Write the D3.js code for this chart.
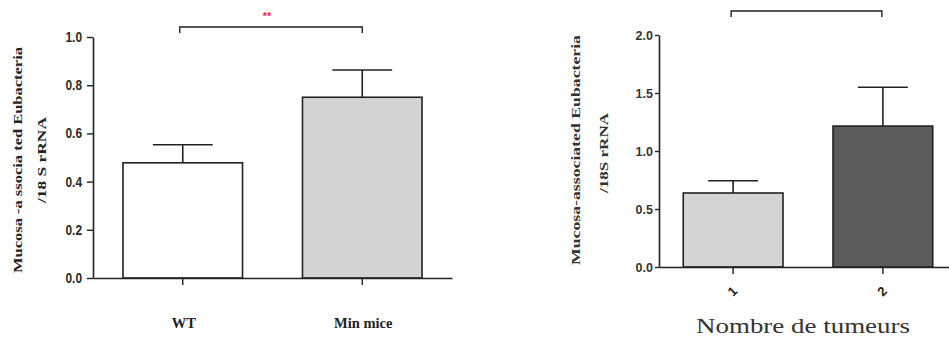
<!DOCTYPE html>
<html><head><meta charset="utf-8">
<script src="https://cdn.jsdelivr.net/npm/d3@7"></script>
<style>body{margin:0;background:#fff}svg{display:block}</style>
</head><body>
<svg id="c" width="949" height="342"></svg>
<script>
// Left panel data
const leftCategories = ["WT", "Min mice"];
const leftMeans = [0.478, 0.75];
const leftErrors = [0.075, 0.113];
const leftTicks = [0, 0.2, 0.4, 0.6, 0.8, 1.0];
const leftColors = ["#ffffff", "#d3d3d3"];
const leftYLabel = ["Mucosa -a ssocia ted Eubacteria", "/18 S rRNA"];
const leftSignif = "**";

// Right panel data
const rightCategories = ["1", "2"];
const rightMeans = [0.638, 1.215];
const rightErrors = [0.105, 0.335];
const rightTicks = [0, 0.5, 1.0, 1.5, 2.0];
const rightColors = ["#d4d4d4", "#5c5c5c"];
const rightYLabel = ["Mucosa-associated Eubacteria", "/18S rRNA"];
const rightXTitle = "Nombre de tumeurs";

const svg = d3.select("#c");
const ink = "#222";
const serif = "'Liberation Serif', 'Times New Roman', serif";
const sans = "'Liberation Sans', Arial, sans-serif";

function panel(o) {
  const g = svg.append("g");
  const y = d3.scaleLinear().domain(o.domain).range([o.y0, o.y1]);
  const x = d3.scaleBand().domain(o.cats).range(o.xr).paddingInner(0.334).paddingOuter(o.pOut);
  g.selectAll("rect.bar").data(o.cats).enter().append("rect")
    .attr("x", d => x(d)).attr("width", x.bandwidth())
    .attr("y", (d, i) => y(o.means[i])).attr("height", (d, i) => y(0) - y(o.means[i]))
    .attr("fill", (d, i) => o.colors[i]).attr("stroke", ink).attr("stroke-width", 1.6);
  o.cats.forEach((c, i) => {
    const cx = x(c) + x.bandwidth() / 2;
    const top = y(o.means[i] + o.errs[i]);
    g.append("line").attr("x1", cx).attr("x2", cx).attr("y1", y(o.means[i])).attr("y2", top)
      .attr("stroke", ink).attr("stroke-width", 1.6);
    g.append("line").attr("x1", cx - x.bandwidth() * 0.25).attr("x2", cx + x.bandwidth() * 0.25)
      .attr("y1", top).attr("y2", top).attr("stroke", ink).attr("stroke-width", 1.6);
  });
  const ya = g.append("g").attr("transform", `translate(${o.xr[0]},0)`)
    .call(d3.axisLeft(y).tickValues(o.ticks).tickFormat(d3.format(".1f")).tickSize(o.tickLen).tickSizeOuter(0).tickPadding(o.tickPad));
  ya.select(".domain").attr("stroke", ink).attr("stroke-width", 1.6);
  ya.selectAll(".tick line").attr("stroke", ink).attr("stroke-width", 1.4);
  ya.selectAll(".tick text").attr("font-family", o.tickFont).attr("font-size", o.tickSize)
    .attr("font-weight", o.tickWeight).attr("fill", o.tickColor);
  if (o.squeeze) {
    const off = o.tickLen + o.tickPad;
    ya.selectAll(".tick text").attr("x", -off / o.squeeze).attr("transform", `scale(${o.squeeze},1)`);
  }
  const xa = g.append("g").attr("transform", `translate(0,${o.y0})`)
    .call(d3.axisBottom(x).tickSize(7).tickSizeOuter(0).tickFormat(""));
  xa.select(".domain").attr("stroke", ink).attr("stroke-width", 1.6);
  xa.selectAll(".tick line").attr("stroke", ink).attr("stroke-width", 1.4);
  return {g, x, y};
}

// ---- Left panel
const L = panel({domain: [0, 1], y0: 278, y1: 37, cats: leftCategories, xr: [93, 452], pOut: 0.167,
  means: leftMeans, errs: leftErrors, colors: leftColors, ticks: leftTicks,
  tickLen: 6, tickPad: 5, tickFont: sans, tickSize: 14,
  tickWeight: "bold", tickColor: "#2a2a2a", squeeze: 0.85});
leftCategories.forEach((c, i) => {
  L.g.append("text").attr("x", L.x(c) + L.x.bandwidth() / 2 + 1).attr("y", 328)
    .attr("text-anchor", "middle").attr("font-family", serif)
    .attr("font-weight", "bold").attr("font-size", 14.5).attr("fill", "#222").text(c);
});
[[18, 226], [42, 86]].forEach(([xx, len], i) => {
  L.g.append("text").attr("transform", `translate(${xx + 4},160) rotate(-90)`)
    .attr("text-anchor", "middle").attr("font-family", serif)
    .attr("font-weight", "bold").attr("font-size", 12.5).attr("fill", "#222")
    .attr("textLength", len).attr("lengthAdjust", "spacingAndGlyphs").text(leftYLabel[i]);
});
{
  const a = L.x(leftCategories[0]) + L.x.bandwidth() / 2 - 3, b = L.x(leftCategories[1]) + L.x.bandwidth() / 2;
  L.g.append("path").attr("d", `M${a},33V27H${b}V33`).attr("fill", "none").attr("stroke", ink).attr("stroke-width", 1.4);
  L.g.append("text").attr("x", (a + b) / 2 - 4).attr("y", 20).attr("text-anchor", "middle")
    .attr("font-family", sans).attr("font-size", 11).attr("font-weight", "bold")
    .attr("fill", "#e8305a").text(leftSignif);
}

// ---- Right panel
const R = panel({domain: [0, 2], y0: 267, y1: 35, cats: rightCategories, xr: [659, 957], pOut: 0.162,
  means: rightMeans, errs: rightErrors, colors: rightColors, ticks: rightTicks,
  tickLen: 4, tickPad: 2, tickFont: sans, tickSize: 12.5,
  tickWeight: "bold", tickColor: "#333"});
rightCategories.forEach((c, i) => {
  const cx = R.x(c) + R.x.bandwidth() / 2;
  R.g.append("text").attr("transform", `translate(${cx},292) rotate(-45)`)
    .attr("text-anchor", "middle").attr("dominant-baseline", "middle")
    .attr("font-family", sans).attr("font-weight", "bold").attr("font-size", 13)
    .attr("fill", "#222").text(c);
});
R.g.append("text").attr("x", 803).attr("y", 333).attr("text-anchor", "middle")
  .attr("font-family", serif).attr("font-size", 22)
  .attr("fill", "#333").attr("textLength", 214).attr("lengthAdjust", "spacingAndGlyphs").text(rightXTitle);
[[576, 150, 230], [604, 153, 80]].forEach(([xx, yy, len], i) => {
  R.g.append("text").attr("transform", `translate(${xx + 4},${yy}) rotate(-90)`)
    .attr("text-anchor", "middle").attr("font-family", serif)
    .attr("font-weight", "bold").attr("font-size", 12.5).attr("fill", "#333")
    .attr("textLength", len).attr("lengthAdjust", "spacingAndGlyphs").text(rightYLabel[i]);
});
{
  const a = R.x(rightCategories[0]) + R.x.bandwidth() / 2 - 2, b = R.x(rightCategories[1]) + R.x.bandwidth() / 2 - 1;
  R.g.append("path").attr("d", `M${a},17V11H${b}V17`).attr("fill", "none").attr("stroke", ink).attr("stroke-width", 1.4);
}
</script>
</body></html>
